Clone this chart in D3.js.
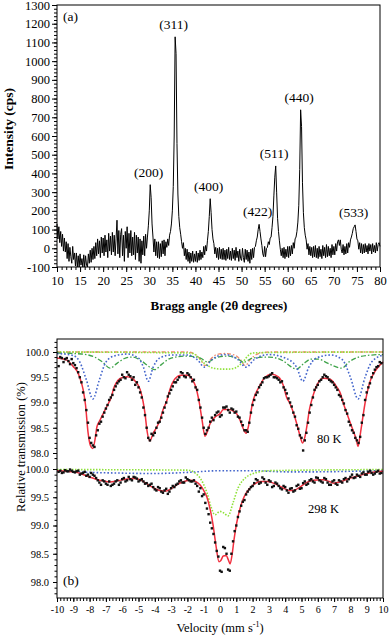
<!DOCTYPE html>
<html><head><meta charset="utf-8">
<script src="https://cdn.jsdelivr.net/npm/d3@7"></script>
<style>
body{margin:0;background:#fff}
svg{display:block}
text{font-family:"Liberation Serif","Times New Roman",serif;fill:#000}
</style>
</head><body>
<svg id="c" width="390" height="637" font-family="Liberation Serif, Times New Roman, serif"></svg>
<script>
// ---------- Panel (a): XRD ----------
const xrdStart = 10, xrdStep = 0.2;
const xrdIntensity = [
130,50,115,30,90,10,75,-15,55,-20,
35,-55,25,-70,5,-45,-80,10,-60,-25,
-95,-25,-100,-40,-100,-30,-90,-55,-100,-35,
-100,-40,-90,-100,-30,-80,-10,-75,0,-60,
10,-55,30,-40,50,-30,40,-50,60,-25,
55,-40,70,-20,45,-50,80,-15,65,-35,
85,-20,70,-40,50,150,-30,95,-50,75,
105,-40,70,-70,90,0,115,-50,80,-25,
95,-40,60,-35,85,-60,70,-25,60,-70,
50,-80,40,-35,65,-40,75,0,60,120,
200,340,270,130,60,-20,50,-40,35,-50,
35,-55,25,-45,40,-30,45,-40,35,5,
50,15,70,90,130,200,330,600,1130,1040,
560,290,170,110,75,35,0,30,-40,0,
-60,-5,-70,-20,-80,-25,-70,-15,-75,-30,
-70,-15,-75,-25,-65,-10,-60,-20,-50,10,
-35,15,-15,40,90,170,265,190,100,50,
25,-30,5,-50,0,-60,5,-55,-5,-60,
0,-60,-10,-65,-5,-55,5,-60,-15,-65,
0,-55,-10,-65,5,-50,-15,-70,-5,-55,
-65,0,-50,-75,-5,-60,-10,-70,-20,-80,
-5,-60,0,-50,5,10,40,60,100,128,
90,50,15,-30,-45,10,-45,0,5,35,
20,55,60,110,170,280,380,440,300,160,
90,40,-5,-40,0,-50,5,-55,-5,-45,
10,-50,10,-40,15,-30,30,0,50,60,
90,140,230,420,740,650,350,190,110,70,
45,-5,25,-35,10,-40,5,-50,10,-45,
15,-50,0,-55,10,-45,-5,-55,15,-40,
5,-50,20,-45,10,-40,0,-50,20,-35,
10,-35,25,-15,35,45,15,45,-5,-25,
20,-35,10,-30,25,-25,30,5,45,60,
80,105,115,125,90,50,40,-5,30,-25,
25,-30,20,-25,25,-20,15,-30,25,-15,
20,-30,25,-20,15,-25,30,-15,20,30,
10
];
const peakLabels  = ["(200)","(311)","(400)","(422)","(511)","(440)","(533)"];
const peakAngles  = [30.2, 35.6, 43.2, 53.8, 57.4, 62.8, 74.6];
const peakHeights = [340, 1130, 265, 128, 440, 740, 125];
const xrdXTicks = [10,15,20,25,30,35,40,45,50,55,60,65,70,75,80];
const xrdYTicks = [-100,0,100,200,300,400,500,600,700,800,900,1000,1100,1200,1300];

// ---------- Panel (b): Mössbauer ----------
// 80 K measured points [velocity, transmission %]
const data80 = [
[-9.9,99.72],[-9.7,99.88],[-9.5,99.86],[-9.3,99.82],[-9.1,99.86],[-8.9,99.74],[-8.7,99.6],[-8.5,99.4],[-8.3,99.05],[-8.1,98.6],
[-7.9,98.2],[-7.7,98.12],[-7.5,98.45],[-7.3,98.62],[-7.1,98.8],[-6.9,98.95],[-6.7,99.1],[-6.5,99.25],[-6.3,99.38],[-6.1,99.45],
[-5.9,99.5],[-5.7,99.6],[-5.5,99.52],[-5.3,99.5],[-5.1,99.4],[-4.9,99.2],[-4.7,98.9],[-4.5,98.5],[-4.3,98.25],[-4.1,98.35],
[-3.9,98.5],[-3.7,98.62],[-3.5,98.8],[-3.3,99.0],[-3.1,99.18],[-2.9,99.32],[-2.7,99.4],[-2.5,99.5],[-2.3,99.58],[-2.1,99.5],
[-1.9,99.55],[-1.7,99.42],[-1.5,99.3],[-1.3,99.05],[-1.1,98.7],[-0.9,98.38],[-0.7,98.5],[-0.5,98.7],[-0.3,98.75],[-0.1,98.82],
[0.1,98.75],[0.3,98.9],[0.5,98.85],[0.7,98.88],[0.9,98.8],[1.1,98.72],[1.3,98.62],[1.5,98.45],[1.7,98.42],[1.9,98.8],
[2.1,99.05],[2.3,99.2],[2.5,99.35],[2.7,99.48],[2.9,99.5],[3.1,99.55],[3.3,99.5],[3.5,99.48],[3.7,99.4],[3.9,99.3],
[4.1,99.18],[4.3,99.0],[4.5,98.8],[4.7,98.55],[4.9,98.35],[5.1,98.05],[5.3,98.4],[5.5,98.8],[5.7,99.1],[5.9,99.3],
[6.1,99.42],[6.3,99.5],[6.5,99.52],[6.7,99.45],[6.9,99.4],[7.1,99.3],[7.3,99.15],[7.5,99.05],[7.7,98.85],[7.9,98.62],
[8.1,98.45],[8.3,98.3],[8.5,98.2],[8.7,98.6],[8.9,99.05],[9.1,99.3],[9.3,99.5],[9.5,99.65],[9.7,99.72],[9.9,99.78],
[-9.8,99.9],[-9.6,99.8],[-9.4,99.88],[-9.2,99.76],[-9.0,99.78],[-8.8,99.68],[-8.6,99.5],[-8.4,99.2],[-8.2,98.85],[-8.0,98.3],
[-7.8,98.15],[-7.6,98.35],[-7.4,98.58],[-7.2,98.72],[-7.0,98.88],[-6.8,99.05],[-6.6,99.15],[-6.4,99.32],[-6.2,99.42],[-6.0,99.55],
[-5.8,99.48],[-5.6,99.55],[-5.4,99.45],[-5.2,99.35],[-5.0,99.3],[-4.8,99.1],[-4.6,98.75],[-4.4,98.3],[-4.2,98.38],[-4.0,98.4],
[-3.8,98.6],[-3.6,98.7],[-3.4,98.9],[-3.2,99.12],[-3.0,99.25],[-2.8,99.4],[-2.6,99.45],[-2.4,99.6],[-2.2,99.52],[-2.0,99.58],
[-1.8,99.5],[-1.6,99.45],[-1.4,99.25],[-1.2,98.9],[-1.0,98.5],[-0.8,98.45],[-0.6,98.62],[-0.4,98.65],[-0.2,98.8],[0.0,98.72],
[0.2,98.9],[0.4,98.92],[0.6,98.8],[0.8,98.86],[1.0,98.82],[1.2,98.7],[1.4,98.55],[1.6,98.45],[1.8,98.6],[2.0,98.95],
[2.2,99.15],[2.4,99.3],[2.6,99.4],[2.8,99.5],[3.0,99.52],[3.2,99.58],[3.4,99.5],[3.6,99.45],[3.8,99.42],[4.0,99.25],
[4.2,99.08],[4.4,98.92],[4.6,98.72],[4.8,98.48],[5.0,98.3],[5.2,98.25],[5.4,98.6],[5.6,98.95],[5.8,99.25],[6.0,99.35],
[6.2,99.45],[6.4,99.55],[6.6,99.5],[6.8,99.42],[7.0,99.35],[7.2,99.25],[7.4,99.12],[7.6,98.98],[7.8,98.78],[8.0,98.55],
[8.2,98.4],[8.4,98.25],[8.6,98.32],[8.8,98.75],[9.0,99.2],[9.2,99.38],[9.4,99.58],[9.6,99.7],[9.8,99.8]
];
// 80 K total fit
const fit80 = [
[-10,99.88],[-9.4,99.84],[-9.0,99.71],[-8.77,99.62],[-8.59,99.48],[-8.4,99.26],[-8.25,98.95],[-8.1,98.42],[-7.95,98.15],[-7.81,98.09],
[-7.65,98.3],[-7.55,98.52],[-7.36,98.65],[-7.12,98.81],[-6.87,98.97],[-6.7,99.08],[-6.5,99.3],[-6.26,99.44],[-5.95,99.5],[-5.7,99.51],
[-5.4,99.48],[-5.2,99.42],[-4.9,99.26],[-4.72,99.02],[-4.6,98.78],[-4.48,98.45],[-4.3,98.24],[-4.11,98.38],[-3.87,98.52],[-3.68,98.65],
[-3.5,98.85],[-3.25,99.05],[-3.07,99.26],[-2.76,99.47],[-2.4,99.54],[-2.0,99.54],[-1.7,99.46],[-1.5,99.32],[-1.3,99.05],[-1.1,98.65],
[-0.92,98.33],[-0.78,98.42],[-0.61,98.58],[-0.31,98.71],[0.0,98.78],[0.2,98.86],[0.5,98.86],[0.82,98.83],[1.02,98.78],[1.23,98.65],
[1.43,98.48],[1.6,98.39],[1.74,98.52],[1.88,98.78],[2.0,99.0],[2.15,99.15],[2.45,99.34],[2.76,99.5],[3.17,99.56],[3.58,99.51],
[3.88,99.34],[4.09,99.1],[4.29,98.98],[4.48,98.82],[4.7,98.59],[4.9,98.35],[5.07,98.2],[5.21,98.32],[5.36,98.59],[5.48,98.85],
[5.63,99.05],[5.75,99.18],[5.95,99.35],[6.34,99.48],[6.75,99.46],[7.16,99.31],[7.4,99.17],[7.55,99.0],[7.7,98.86],[7.88,98.7],
[8.16,98.45],[8.35,98.28],[8.47,98.13],[8.62,98.4],[8.77,98.72],[8.9,98.99],[9.0,99.15],[9.2,99.41],[9.5,99.61],[9.8,99.74],[10,99.8]
];
// 80 K sub-spectra
const sextetA80 = [
[-10,99.97],[-9,99.93],[-8.6,99.8],[-8.2,99.45],[-7.8,99.07],[-7.4,99.45],[-7.0,99.8],[-6.5,99.92],[-5.7,99.96],[-5.0,99.88],
[-4.7,99.7],[-4.4,99.42],[-4.1,99.7],[-3.7,99.88],[-3.0,99.94],[-2.0,99.94],[-1.4,99.85],[-0.95,99.7],[-0.5,99.85],[0.3,99.95],
[1.1,99.85],[1.6,99.7],[2.1,99.85],[3.0,99.95],[4.0,99.88],[4.7,99.7],[5.08,99.42],[5.45,99.7],[5.9,99.88],[6.8,99.94],
[7.5,99.85],[8.0,99.5],[8.47,99.07],[8.9,99.5],[9.3,99.8],[10,99.94]
];
const sextetB80 = [
[-10,99.98],[-8.5,99.96],[-7.7,99.9],[-7.2,99.8],[-6.75,99.68],[-6.3,99.78],[-5.8,99.88],[-5.4,99.9],[-4.8,99.82],[-4.4,99.72],
[-4.0,99.65],[-3.6,99.75],[-3.0,99.88],[-2.0,99.92],[-1.2,99.88],[-0.76,99.8],[-0.3,99.88],[0.4,99.92],[1.0,99.88],[1.48,99.8],
[2.0,99.88],[3.0,99.9],[3.9,99.82],[4.3,99.72],[4.7,99.66],[5.1,99.76],[5.6,99.86],[6.0,99.86],[6.6,99.78],[7.0,99.72],
[7.47,99.68],[7.9,99.8],[8.5,99.9],[9.3,99.94],[10,99.95]
];
const compC80 = [
[-10,100.0],[-2.0,100.0],[-1.5,99.95],[-1.2,99.85],[-0.92,99.73],[-0.6,99.85],[-0.2,99.95],[0.3,99.97],[0.9,99.94],[1.25,99.85],
[1.55,99.73],[1.85,99.85],[2.3,99.96],[3,100.0],[10,100.0]
];
const doublet80 = [
[-10,100.0],[-1.8,99.98],[-1.4,99.92],[-1.05,99.8],[-0.7,99.72],[-0.4,99.68],[0.2,99.66],[0.5,99.66],[0.9,99.68],[1.2,99.74],
[1.4,99.8],[1.7,99.92],[2.0,99.98],[3,99.99],[10,100.0]
];
// 298 K
const data298 = [
[-9.9,99.95],[-9.7,99.93],[-9.5,99.98],[-9.3,99.96],[-9.1,99.97],[-8.9,99.94],[-8.7,99.97],[-8.5,99.92],[-8.3,99.95],[-8.1,99.9],
[-7.9,99.93],[-7.7,99.88],[-7.5,99.8],[-7.3,99.72],[-7.1,99.78],[-6.9,99.72],[-6.7,99.7],[-6.5,99.74],[-6.3,99.8],[-6.1,99.76],
[-5.9,99.84],[-5.7,99.8],[-5.5,99.82],[-5.3,99.86],[-5.1,99.83],[-4.9,99.8],[-4.7,99.78],[-4.5,99.75],[-4.3,99.72],[-4.1,99.68],
[-3.9,99.62],[-3.7,99.66],[-3.5,99.58],[-3.3,99.65],[-3.1,99.6],[-2.9,99.7],[-2.7,99.72],[-2.5,99.78],[-2.3,99.76],[-2.1,99.85],
[-1.9,99.8],[-1.7,99.78],[-1.5,99.74],[-1.3,99.6],[-1.1,99.52],[-0.9,99.4],[-0.7,99.2],[-0.5,98.95],[-0.3,98.7],[-0.1,98.45],
[0.1,98.18],[0.3,98.6],[0.5,98.22],[0.7,98.5],[0.9,98.9],[1.1,99.15],[1.3,99.35],[1.5,99.45],[1.7,99.6],[1.9,99.68],
[2.1,99.75],[2.3,99.8],[2.5,99.76],[2.7,99.82],[2.9,99.72],[3.1,99.78],[3.3,99.7],[3.5,99.74],[3.7,99.66],[3.9,99.7],
[4.1,99.62],[4.3,99.65],[4.5,99.6],[4.7,99.7],[4.9,99.65],[5.1,99.75],[5.3,99.72],[5.5,99.8],[5.7,99.78],[5.9,99.85],
[6.1,99.8],[6.3,99.76],[6.5,99.82],[6.7,99.72],[6.9,99.78],[7.1,99.74],[7.3,99.8],[7.5,99.76],[7.7,99.84],[7.9,99.82],
[8.1,99.9],[8.3,99.85],[8.5,99.88],[8.7,99.92],[8.9,99.9],[9.1,99.95],[9.3,99.93],[9.5,99.92],[9.7,99.97],[9.9,99.93],
[-9.8,99.97],[-9.6,99.94],[-9.4,99.96],[-9.2,99.99],[-9.0,99.95],[-8.8,99.96],[-8.6,99.9],[-8.4,99.93],[-8.2,99.88],[-8.0,99.86],
[-7.8,99.9],[-7.6,99.84],[-7.4,99.76],[-7.2,99.8],[-7.0,99.74],[-6.8,99.78],[-6.6,99.72],[-6.4,99.78],[-6.2,99.72],[-6.0,99.82],
[-5.8,99.78],[-5.6,99.86],[-5.4,99.8],[-5.2,99.85],[-5.0,99.78],[-4.8,99.82],[-4.6,99.74],[-4.4,99.7],[-4.2,99.74],[-4.0,99.64],
[-3.8,99.68],[-3.6,99.6],[-3.4,99.62],[-3.2,99.56],[-3.0,99.66],[-2.8,99.68],[-2.6,99.74],[-2.4,99.8],[-2.2,99.76],[-2.0,99.82],
[-1.8,99.78],[-1.6,99.8],[-1.4,99.7],[-1.2,99.66],[-1.0,99.55],[-0.8,99.3],[-0.6,99.05],[-0.4,98.85],[-0.2,98.55],[0.0,98.2],
[0.2,98.62],[0.4,98.5],[0.6,98.2],[0.8,98.72],[1.0,99.0],[1.2,99.25],[1.4,99.42],[1.6,99.55],[1.8,99.64],[2.0,99.7],
[2.2,99.82],[2.4,99.74],[2.6,99.85],[2.8,99.76],[3.0,99.8],[3.2,99.68],[3.4,99.76],[3.6,99.7],[3.8,99.64],[4.0,99.68],
[4.2,99.58],[4.4,99.66],[4.6,99.62],[4.8,99.72],[5.0,99.66],[5.2,99.78],[5.4,99.74],[5.6,99.82],[5.8,99.76],[6.0,99.84],
[6.2,99.78],[6.4,99.84],[6.6,99.76],[6.8,99.72],[7.0,99.8],[7.2,99.72],[7.4,99.78],[7.6,99.82],[7.8,99.78],[8.0,99.86],
[8.2,99.84],[8.4,99.9],[8.6,99.86],[8.8,99.94],[9.0,99.9],[9.2,99.97],[9.4,99.9],[9.6,99.95],[9.8,99.92]
];
const fit298 = [
[-10,99.97],[-9.4,99.96],[-8.8,99.94],[-8.2,99.88],[-7.6,99.82],[-7.2,99.79],[-6.75,99.77],[-6.3,99.79],[-5.8,99.82],[-5.3,99.83],
[-4.9,99.81],[-4.5,99.74],[-4.1,99.67],[-3.7,99.62],[-3.3,99.61],[-2.95,99.66],[-2.6,99.73],[-2.2,99.78],[-1.85,99.8],[-1.5,99.78],
[-1.23,99.72],[-1.0,99.62],[-0.8,99.5],[-0.6,99.28],[-0.43,99.02],[-0.25,98.65],[-0.06,98.36],[0.05,98.38],[0.2,98.46],[0.38,98.47],
[0.5,98.4],[0.62,98.32],[0.75,98.5],[0.86,98.75],[1.02,99.04],[1.23,99.3],[1.41,99.46],[1.62,99.58],[1.84,99.66],[2.15,99.74],
[2.45,99.78],[2.9,99.78],[3.5,99.72],[3.9,99.66],[4.3,99.62],[4.6,99.63],[4.9,99.68],[5.3,99.76],[5.7,99.8],[6.3,99.81],
[6.7,99.78],[6.95,99.75],[7.2,99.76],[7.55,99.79],[8.0,99.84],[8.4,99.87],[9.0,99.92],[9.6,99.95],[10,99.96]
];
const doublet298 = [
[-10,99.99],[-2,99.98],[-1.53,99.93],[-1.04,99.75],[-0.8,99.58],[-0.55,99.33],[-0.31,99.19],[0.0,99.25],[0.25,99.22],[0.49,99.17],
[0.8,99.4],[1.1,99.66],[1.41,99.8],[2.15,99.93],[3,99.97],[10,99.99]
];
const sextet298 = [
[-10,99.97],[-8,99.94],[-6.5,99.93],[-4,99.92],[-2,99.94],[0,99.97],[2,99.97],[4,99.95],[6,99.95],[8,99.96],[10,99.97]
];
const velTicks = [-10,-9,-8,-7,-6,-5,-4,-3,-2,-1,0,1,2,3,4,5,6,7,8,9,10];
const transTicks = [98.0,98.5,99.0,99.5,100.0];

// ================= drawing =================
const FONT = '"Liberation Serif","Times New Roman",serif';
const svg = d3.select("#c");

function styleAxis(g, size) {
  g.attr("font-family", null).attr("font-size", null);
  g.select(".domain").remove();
  g.selectAll(".tick line").attr("stroke", "#000").attr("stroke-width", 1);
  g.selectAll(".tick text").style("font-size", size + "px").attr("fill", "#000").style("font-family", FONT);
}

// ---- Panel a ----
const xA = d3.scaleLinear().domain([10, 80]).range([57, 380]);
const yA = d3.scaleLinear().domain([-100, 1300]).range([267, 5]);

svg.append("g").attr("transform", "translate(0,267)")
  .call(d3.axisBottom(xA).tickValues(d3.range(10, 80.5, 1)).tickSize(3).tickFormat(""))
  .call(g => styleAxis(g, 12));
svg.append("g").attr("transform", "translate(0,267)")
  .call(d3.axisBottom(xA).tickValues(xrdXTicks).tickSize(5).tickPadding(4).tickFormat(d => String(d)))
  .call(g => styleAxis(g, 12.5));
svg.append("g").attr("transform", "translate(57,0)")
  .call(d3.axisLeft(yA).tickValues(d3.range(-100, 1301, 20)).tickSize(3).tickFormat(""))
  .call(g => styleAxis(g, 12));
svg.append("g").attr("transform", "translate(57,0)")
  .call(d3.axisLeft(yA).tickValues(xrdYTicks).tickSize(5).tickPadding(2).tickFormat(d => String(d)))
  .call(g => styleAxis(g, 12.5));

const xrdLine = d3.line()
  .x((d, i) => xA(xrdStart + i * xrdStep))
  .y(d => yA(d));
svg.append("path").datum(xrdIntensity)
  .attr("d", xrdLine).attr("fill", "none").attr("stroke", "#000").attr("stroke-width", 1);

svg.append("rect").attr("x", 57).attr("y", 5).attr("width", 323).attr("height", 262)
  .attr("fill", "none").attr("stroke", "#000").attr("stroke-width", 1);

svg.append("g").selectAll("text").data(peakLabels).join("text")
  .attr("x", (d, i) => xA(peakAngles[i]) - 1.5)
  .attr("y", (d, i) => yA(peakHeights[i]) - 8)
  .attr("text-anchor", "middle").style("font-size", "13.5px").text(d => d);

svg.append("text").attr("x", 63).attr("y", 21).style("font-size", "13.5px").text("(a)");
svg.append("text").attr("x", 219).attr("y", 310).attr("text-anchor", "middle")
  .style("font-size", "13px").style("font-weight", "bold").text("Bragg angle (2θ degrees)");
svg.append("text").attr("transform", "translate(13,129) rotate(-90)").attr("text-anchor", "middle")
  .style("font-size", "13.5px").style("font-weight", "bold").text("Intensity (cps)");

// ---- Panel b ----
const xB = d3.scaleLinear().domain([-10, 10]).range([57, 383]);
const yB1 = d3.scaleLinear().domain([98, 100]).range([453, 352]);
const yB2 = d3.scaleLinear().domain([98, 100]).range([582, 469]);

svg.append("g").attr("transform", "translate(0,598)")
  .call(d3.axisBottom(xB).tickValues(d3.range(-10, 10.01, 0.2)).tickSize(3).tickFormat(""))
  .call(g => styleAxis(g, 10));
svg.append("g").attr("transform", "translate(0,598)")
  .call(d3.axisBottom(xB).tickValues(velTicks).tickSize(4).tickPadding(4).tickFormat(d => String(d)))
  .call(g => styleAxis(g, 10));

[[yB1, 97.88, 100.25], [yB2, 97.72, 100.05]].forEach(([ys, lo, hi]) => {
  svg.append("g").attr("transform", "translate(57,0)")
    .call(d3.axisLeft(ys).tickValues(d3.range(Math.ceil(lo * 10) / 10, hi, 0.1)).tickSize(2.5).tickFormat(""))
    .call(g => styleAxis(g, 10));
  svg.append("g").attr("transform", "translate(57,0)")
    .call(d3.axisLeft(ys).tickValues(transTicks).tickSize(4).tickPadding(4).tickFormat(d3.format(".1f")))
    .call(g => styleAxis(g, 10.5));
});

const lineB = (ys) => d3.line().x(d => xB(d[0])).y(d => ys(d[1])).curve(d3.curveMonotoneX);

function comp(data, ys, color, dash, w) {
  svg.append("path").datum(data).attr("d", lineB(ys)).attr("fill", "none")
    .attr("stroke", color).attr("stroke-width", w).attr("stroke-dasharray", dash);
}
// 80 K components
comp(compC80, yB1, "#f08a6a", "4,2,1.5,2", 1.3);
comp(doublet80, yB1, "#8fe23a", "1.5,1.5", 1.6);
comp(sextetB80, yB1, "#3fa34a", "5,2,1.5,2", 1.3);
comp(sextetA80, yB1, "#4466cc", "1.6,2", 1.6);
// 298 K components
comp(sextet298, yB2, "#4466cc", "1.6,2", 1.6);
comp(doublet298, yB2, "#8fe23a", "1.5,1.5", 1.6);

// fits
svg.append("path").datum(fit80).attr("d", lineB(yB1)).attr("fill", "none")
  .attr("stroke", "#f2303f").attr("stroke-width", 1.5);
svg.append("path").datum(fit298).attr("d", lineB(yB2)).attr("fill", "none")
  .attr("stroke", "#f2303f").attr("stroke-width", 1.5);

// points
svg.append("g").selectAll("rect").data(data80).join("rect")
  .attr("x", d => xB(d[0]) - 1.2).attr("y", d => yB1(d[1]) - 1.2)
  .attr("width", 2.4).attr("height", 2.4).attr("fill", "#111");
svg.append("g").selectAll("rect").data(data298).join("rect")
  .attr("x", d => xB(d[0]) - 1.2).attr("y", d => yB2(d[1]) - 1.2)
  .attr("width", 2.4).attr("height", 2.4).attr("fill", "#111");

svg.append("rect").attr("x", 57).attr("y", 339).attr("width", 326).attr("height", 259)
  .attr("fill", "none").attr("stroke", "#000").attr("stroke-width", 1);

svg.append("text").attr("x", xB(5.95)).attr("y", yB1(98.2)).style("font-size", "12.5px").text("80 K");
svg.append("text").attr("x", xB(5.4)).attr("y", yB2(99.22)).style("font-size", "12.5px").text("298 K");
svg.append("text").attr("x", 63).attr("y", 585).style("font-size", "13.5px").text("(b)");

svg.append("text").attr("transform", "translate(25,447) rotate(-90)").attr("text-anchor", "middle")
  .style("font-size", "12.5px").text("Relative transmission (%)");
const vl = svg.append("text").attr("x", 220).attr("y", 632).attr("text-anchor", "middle").style("font-size", "12.5px");
vl.append("tspan").text("Velocity (mm s");
vl.append("tspan").attr("dy", -5).style("font-size", "8px").text("-1");
vl.append("tspan").attr("dy", 5).text(")");
</script>
</body></html>
